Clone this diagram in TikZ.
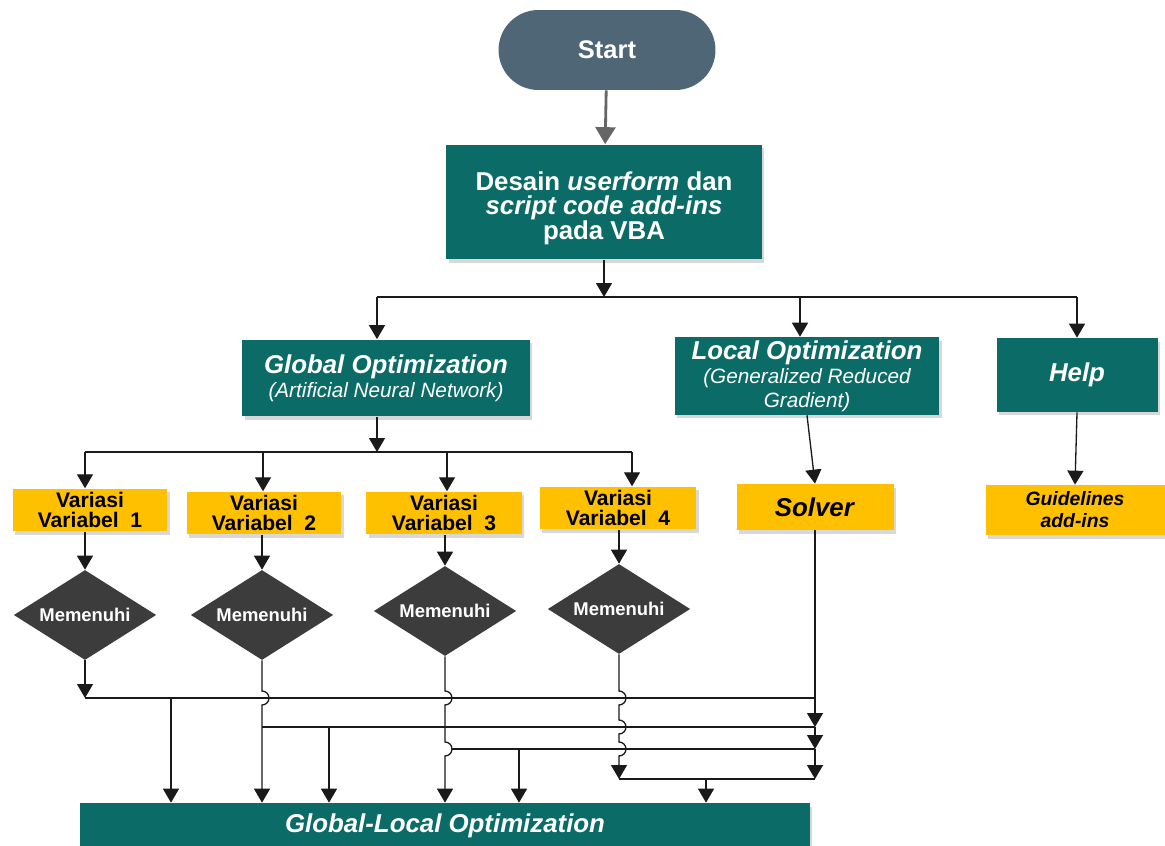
\documentclass[tikz,border=0pt]{standalone}
\usepackage{fontspec}
\setmainfont{Liberation Sans}
\usepackage{xcolor}
\usepackage{tikz}
\usetikzlibrary{calc,arrows.meta,shapes.geometric,shadows}
\definecolor{tealbox}{HTML}{0B6B66}
\definecolor{slate}{HTML}{4F6677}
\definecolor{amber}{HTML}{FFC000}
\definecolor{dark}{HTML}{3C3C3C}
\definecolor{ink}{HTML}{1A1A1A}
\definecolor{startline}{HTML}{666666}
\newcommand{\subtxt}{\fontsize{11.8}{11.2}\selectfont\mdseries\itshape}
\tikzset{
  shade/.style={drop shadow={opacity=0.3,shadow xshift=0.05cm,shadow yshift=-0.07cm}},
  term/.style={fill=slate, rounded corners=0.8cm, minimum width=4.34cm, minimum height=1.6cm,
    text=white, font=\fontsize{14.5}{16}\selectfont\bfseries},
  proc/.style={fill=tealbox, shade, text=white, align=center, inner sep=2pt,
    font=\fontsize{14.7}{13.6}\selectfont\bfseries},
  var/.style={fill=amber, shade, align=center, inner sep=2pt,
    font=\fontsize{12}{11.5}\selectfont\bfseries},
  test/.style={diamond, aspect=1.58, fill=dark, minimum width=2.85cm, minimum height=1.8cm,
    inner sep=0pt, text=white, font=\fontsize{10.5}{12}\selectfont\bfseries},
  link/.style={draw=ink, line width=0.75pt},
  arr/.style={link, -{Triangle[width=0.32cm,length=0.28cm]}},
  startarr/.style={draw=startline, line width=1.6pt, -{Triangle[width=0.4cm,length=0.34cm]}}
}

\begin{document}
\begin{tikzpicture}[x=0.02cm,y=-0.02cm]
  \useasboundingbox (0,0) rectangle (1165,845);
  \clip (0,0) rectangle (1165,845);
  \fill[white] (0,0) rectangle (1165,845);

  % top
  \node[term] (start) at (607,50) {Start};
  \node[proc, minimum width=6.32cm, minimum height=2.3cm] (desain) at (604,202)
    {\rule{0pt}{18pt}Desain \textit{userform} dan\\ \textit{script code add-ins}\\ pada VBA};

  % second level
  \node[proc, minimum width=5.76cm, minimum height=1.54cm] (global) at (386,378)
    {\textit{Global Optimization}\\ \subtxt (Artificial Neural Network)};
  \node[proc, minimum width=5.3cm, minimum height=1.52cm] (local) at (807,376)
    {\textit{Local Optimization}\\ \subtxt (Generalized Reduced\\ \subtxt Gradient)};
  \node[proc, minimum width=3.22cm, minimum height=1.48cm] (help) at (1077,375)
    {\textit{Help}};

  % third level
  \node[var, minimum width=3.1cm, minimum height=0.8cm] (var1) at (90,510) {Variasi\\ Variabel~~1};
  \node[var, minimum width=3.1cm, minimum height=0.84cm] (var2) at (264,513) {Variasi\\ Variabel~~2};
  \node[var, minimum width=3.12cm, minimum height=0.84cm] (var3) at (444,513) {Variasi\\ Variabel~~3};
  \node[var, minimum width=3.14cm, minimum height=0.84cm] (var4) at (618,508) {Variasi\\ Variabel~~4};
  \node[var, minimum width=3.14cm, minimum height=0.92cm, font=\fontsize{14.7}{16}\selectfont\bfseries]
    (solver) at (815,507) {\textit{Solver}};
  \node[var, minimum width=3.58cm, minimum height=1cm, font=\fontsize{11}{12.5}\selectfont\bfseries]
    (guide) at (1075,510) {\textit{Guidelines}\\ \textit{add-ins}};

  % checks
  \node[test] (d1) at (85,615) {Memenuhi};
  \node[test] (d2) at (262,615) {Memenuhi};
  \node[test] (d3) at (445,611) {Memenuhi};
  \node[test] (d4) at (619,609) {Memenuhi};

  \node[proc, minimum width=14.6cm, minimum height=0.92cm] (glocal) at (445,826)
    {\textit{Global-Local Optimization}};

  % branch points
  \coordinate (s1) at (604,297);
  \coordinate (s1l) at (377,297);
  \coordinate (s1m) at (800,297);
  \coordinate (s1r) at (1077,297);
  \coordinate (s2) at (377,452);
  \coordinate (v1) at (85,452);
  \coordinate (v2) at (263,452);
  \coordinate (v3) at (447,452);
  \coordinate (v4) at (632,452);

  % rows to the final box
  \coordinate (j1) at (85,698);   \coordinate (j1e) at (815,698);  \coordinate (t1) at (171,698);
  \coordinate (j2) at (262,727);  \coordinate (j2e) at (815,727);  \coordinate (t2) at (329,727);
  \coordinate (j3) at (452,749);  \coordinate (j3e) at (815,749);  \coordinate (t3) at (519,749);
  \coordinate (j4) at (619,779);  \coordinate (j4e) at (815,779);  \coordinate (t4) at (706,779);

  \draw[startarr] (start) -- (desain);
  \draw[arr] (desain.south -| s1) -- (s1);
  \draw[link] (s1l) -- (s1r);
  \draw[arr] (s1l) -- (s1l |- global.north);
  \draw[arr] (s1m) -- (s1m |- local.north);
  \draw[arr] (s1r) -- (s1r |- help.north);

  \draw[arr] (s2 |- global.south) -- (s2);
  \draw[link] (v1) -- (v4);
  \foreach \i in {1,...,4}{
    \draw[arr] (v\i) -- (v\i |- var\i.north);
    \draw[arr] (d\i.north |- var\i.south) -- (d\i.north);
  }
  \draw[arr] (local.south) -- (solver.north);
  \draw[arr] (help.south) -- (guide.north);

  % joins with hops
  \draw[arr] (d1.south) -- (j1);
  \draw[link] (j1) -- (j1e);
  \draw[arr] (t1) -- (t1 |- glocal.north);

  \draw[arr] (d2.south) -- ($(d2.south |- j1)+(0,-7)$)
    arc[start angle=90,end angle=-90,radius=0.14cm] -- (d2.south |- glocal.north);
  \draw[link] (j2) -- (j2e);
  \draw[arr] (t2) -- (t2 |- glocal.north);

  \draw[arr] (d3.south) -- ($(d3.south |- j1)+(0,-7)$)
    arc[start angle=90,end angle=-90,radius=0.14cm] -- ($(d3.south |- j3)+(0,-7)$)
    arc[start angle=90,end angle=-90,radius=0.14cm] -- (d3.south |- glocal.north);
  \draw[link] (j3) -- (j3e);
  \draw[arr] (t3) -- (t3 |- glocal.north);

  \draw[arr] (d4.south) -- ($(d4.south |- j1)+(0,-7)$)
    arc[start angle=90,end angle=-90,radius=0.14cm] -- ($(d4.south |- j2)+(0,-7)$)
    arc[start angle=90,end angle=-90,radius=0.14cm] -- ($(d4.south |- j3)+(0,-7)$)
    arc[start angle=90,end angle=-90,radius=0.14cm] -- (j4);
  \draw[link] (j4) -- (j4e);
  \draw[arr] (t4) -- (t4 |- glocal.north);

  \draw[arr] (solver.south) -- (j2e);
  \draw[arr] (j2e) -- (j3e);
  \draw[arr] (j3e) -- (j4e);
\end{tikzpicture}
\end{document}
